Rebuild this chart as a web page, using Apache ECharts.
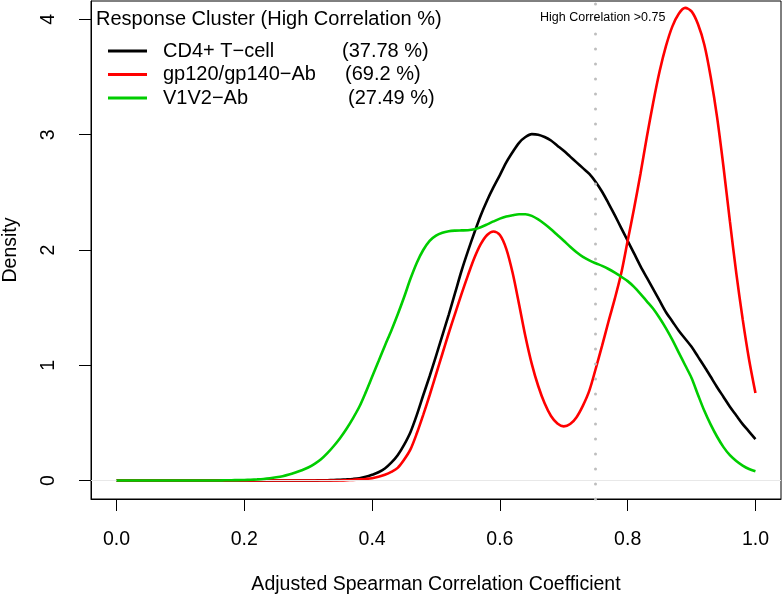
<!DOCTYPE html>
<html><head><meta charset="utf-8">
<script src="https://cdn.jsdelivr.net/npm/echarts@6/dist/echarts.min.js"></script>
<style>html,body{margin:0;padding:0;background:#fff}#c{width:783px;height:595px}</style>
</head><body><div id="c"></div>
<script>
// Adjusted Spearman correlation coefficient (x grid of the density estimates)
const xs = [0.00,0.01,0.02,0.03,0.04,0.05,0.06,0.07,0.08,0.09,
            0.10,0.11,0.12,0.13,0.14,0.15,0.16,0.17,0.18,0.19,
            0.20,0.21,0.22,0.23,0.24,0.25,0.26,0.27,0.28,0.29,
            0.30,0.31,0.32,0.33,0.34,0.35,0.36,0.37,0.38,0.39,
            0.40,0.41,0.42,0.43,0.44,0.45,0.46,0.47,0.48,0.49,
            0.50,0.51,0.52,0.53,0.54,0.55,0.56,0.57,0.58,0.59,
            0.60,0.61,0.62,0.63,0.64,0.65,0.66,0.67,0.68,0.69,
            0.70,0.71,0.72,0.73,0.74,0.75,0.76,0.77,0.78,0.79,
            0.80,0.81,0.82,0.83,0.84,0.85,0.86,0.87,0.88,0.89,
            0.90,0.91,0.92,0.93,0.94,0.95,0.96,0.97,0.98,0.99,
            1.00];
// Density values per response cluster
const cd4 = [0,0,0,0,0,0,0,0,0,0,
             0,0,0,0,0,0,0,0,0,0,
             0,0,0,0,0,0,0,0,0,0,
             0,0.001,0.002,0.003,0.005,0.007,0.010,0.014,0.020,0.032,
             0.050,0.072,0.105,0.155,0.220,0.310,0.420,0.570,0.740,0.905,
             1.080,1.260,1.440,1.630,1.820,1.990,2.150,2.300,2.430,2.545,
             2.650,2.760,2.850,2.930,2.980,3.005,3.000,2.980,2.950,2.905,
             2.860,2.810,2.760,2.710,2.660,2.590,2.505,2.405,2.300,2.190,
             2.080,1.970,1.860,1.760,1.660,1.560,1.460,1.380,1.300,1.230,
             1.160,1.075,0.990,0.900,0.810,0.725,0.640,0.565,0.490,0.425,
             0.360];
const gp120 = [0,0,0,0,0,0,0,0,0,0,
               0,0,0,0,0,0,0,0,0,0,
               0,0,0,0,0,0,0,0,0,0,
               0,0,0,0,0,0.001,0.003,0.006,0.010,0.014,
               0.020,0.032,0.050,0.075,0.110,0.180,0.270,0.410,0.570,0.740,
               0.920,1.100,1.280,1.450,1.620,1.780,1.930,2.050,2.130,2.160,
               2.130,2.010,1.800,1.530,1.250,1.010,0.820,0.670,0.560,0.495,
               0.470,0.490,0.550,0.650,0.780,0.970,1.170,1.380,1.580,1.800,
               2.080,2.360,2.660,2.980,3.280,3.550,3.770,3.940,4.050,4.100,
               4.070,3.960,3.780,3.500,3.150,2.720,2.250,1.800,1.400,1.050,
               0.760];
const v1v2 = [0,0,0,0,0,0,0,0,0,0,
              0,0,0,0,0,0.0005,0.001,0.002,0.003,0.004,
              0.005,0.007,0.010,0.014,0.020,0.028,0.038,0.052,0.070,0.090,
              0.113,0.145,0.185,0.238,0.300,0.370,0.450,0.540,0.640,0.765,
              0.900,1.035,1.170,1.300,1.440,1.590,1.750,1.890,2.000,2.080,
              2.125,2.150,2.163,2.168,2.170,2.172,2.180,2.198,2.222,2.248,
              2.272,2.290,2.302,2.310,2.310,2.296,2.265,2.225,2.180,2.130,
              2.080,2.028,1.980,1.940,1.910,1.885,1.862,1.835,1.803,1.768,
              1.730,1.680,1.620,1.555,1.490,1.410,1.320,1.220,1.110,1.000,
              0.890,0.745,0.605,0.485,0.380,0.290,0.220,0.170,0.130,0.100,
              0.080];
const seriesNames = ['CD4+ T\u2212cell', 'gp120/gp140\u2212Ab', 'V1V2\u2212Ab'];
const highPct = ['(37.78 %)', '(69.2 %)', '(27.49 %)'];
const xTicks = [0, 0.2, 0.4, 0.6, 0.8, 1.0];
const yTicks = [0, 1, 2, 3, 4];
const threshold = 0.75;
const legendTitle = 'Response Cluster (High Correlation %)';
const thresholdLabel = 'High Correlation >0.75';

const FONT = '"Liberation Sans", Arial, Helvetica, sans-serif';
const colors = ['#000000', '#ff0000', '#00cd00'];
const values = [cd4, gp120, v1v2];

const chart = echarts.init(document.getElementById('c'), null, {renderer: 'canvas'});

const lineSeries = values.map((vals, i) => ({
  name: seriesNames[i],
  type: 'line',
  data: xs.map((x, j) => [x, vals[j]]),
  showSymbol: false,
  smooth: 0.3,
  lineStyle: {color: colors[i], width: 2.6},
  itemStyle: {color: colors[i]},
  z: 3 + i
}));

const option = {
  animation: false,
  backgroundColor: '#ffffff',
  textStyle: {fontFamily: FONT},
  title: [
    {text: legendTitle, left: 96, top: 9, padding: 0,
     textStyle: {fontFamily: FONT, fontSize: 20, fontWeight: 'normal', color: '#000'}},
    {text: thresholdLabel, left: 540, top: 11, padding: 0,
     textStyle: {fontFamily: FONT, fontSize: 12.5, fontWeight: 'normal', color: '#000'}}
  ],
  legend: {
    data: seriesNames,
    orient: 'vertical',
    left: 108, top: 41, padding: 0,
    itemWidth: 39, itemHeight: 3, icon: 'rect', itemGap: 3.5,
    selectedMode: false,
    formatter: name => {
      const i = seriesNames.indexOf(name);
      return '{g| }{n' + i + '|' + name + '}{p|' + highPct[i] + '}';
    },
    textStyle: {
      fontFamily: FONT, fontSize: 20, color: '#000', lineHeight: 20,
      rich: {
        g: {width: 11, fontSize: 20, fontFamily: FONT},
        n0: {width: 179, fontSize: 20, fontFamily: FONT, color: '#000'},
        n1: {width: 182, fontSize: 20, fontFamily: FONT, color: '#000'},
        n2: {width: 185, fontSize: 20, fontFamily: FONT, color: '#000'},
        p: {fontSize: 20, fontFamily: FONT, color: '#000'}
      }
    }
  },
  grid: {left: 91, top: 1, width: 690, height: 498, show: true, borderColor: '#000', borderWidth: 1,
         backgroundColor: 'transparent', containLabel: false, outerBoundsMode: 'none'},
  xAxis: {
    type: 'value', min: -0.04, max: 1.04,
    name: 'Adjusted Spearman Correlation Coefficient',
    nameLocation: 'middle', nameGap: 76,
    nameTextStyle: {fontFamily: FONT, fontSize: 19.5, color: '#000'},
    axisLine: {show: true, onZero: false, lineStyle: {color: '#000', width: 1}},
    axisTick: {show: true, customValues: xTicks, length: 12, inside: false, lineStyle: {color: '#000', width: 1}},
    axisLabel: {customValues: xTicks, formatter: v => Number(v).toFixed(1), fontFamily: FONT, fontSize: 19.5, color: '#000', margin: 31},
    splitLine: {show: false}
  },
  yAxis: {
    type: 'value', min: -0.16, max: 4.16,
    name: 'Density', nameLocation: 'middle', nameGap: 70, nameRotate: 90,
    nameTextStyle: {fontFamily: FONT, fontSize: 19.5, color: '#000'},
    axisLine: {show: true, onZero: false, lineStyle: {color: '#000', width: 1}},
    axisTick: {show: true, customValues: yTicks, length: 12, inside: false, lineStyle: {color: '#000', width: 1}},
    axisLabel: {customValues: yTicks, formatter: v => String(Math.round(v)), rotate: 90, fontFamily: FONT, fontSize: 19.5, color: '#000', margin: 32},
    splitLine: {show: false}
  },
  series: [
    {
      name: 'refs', type: 'line', data: [], silent: true, z: 1,
      markLine: {
        silent: true, symbol: 'none', animation: false,
        label: {show: false},
        data: [
          {yAxis: 0, lineStyle: {color: '#e8e8e8', width: 1, type: 'solid'}},
          {xAxis: threshold, lineStyle: {color: '#bebebe', width: 3, type: [0, 15], cap: 'round'}}
        ]
      }
    }
  ].concat(lineSeries)
};
chart.setOption(option);
</script>
</body></html>
